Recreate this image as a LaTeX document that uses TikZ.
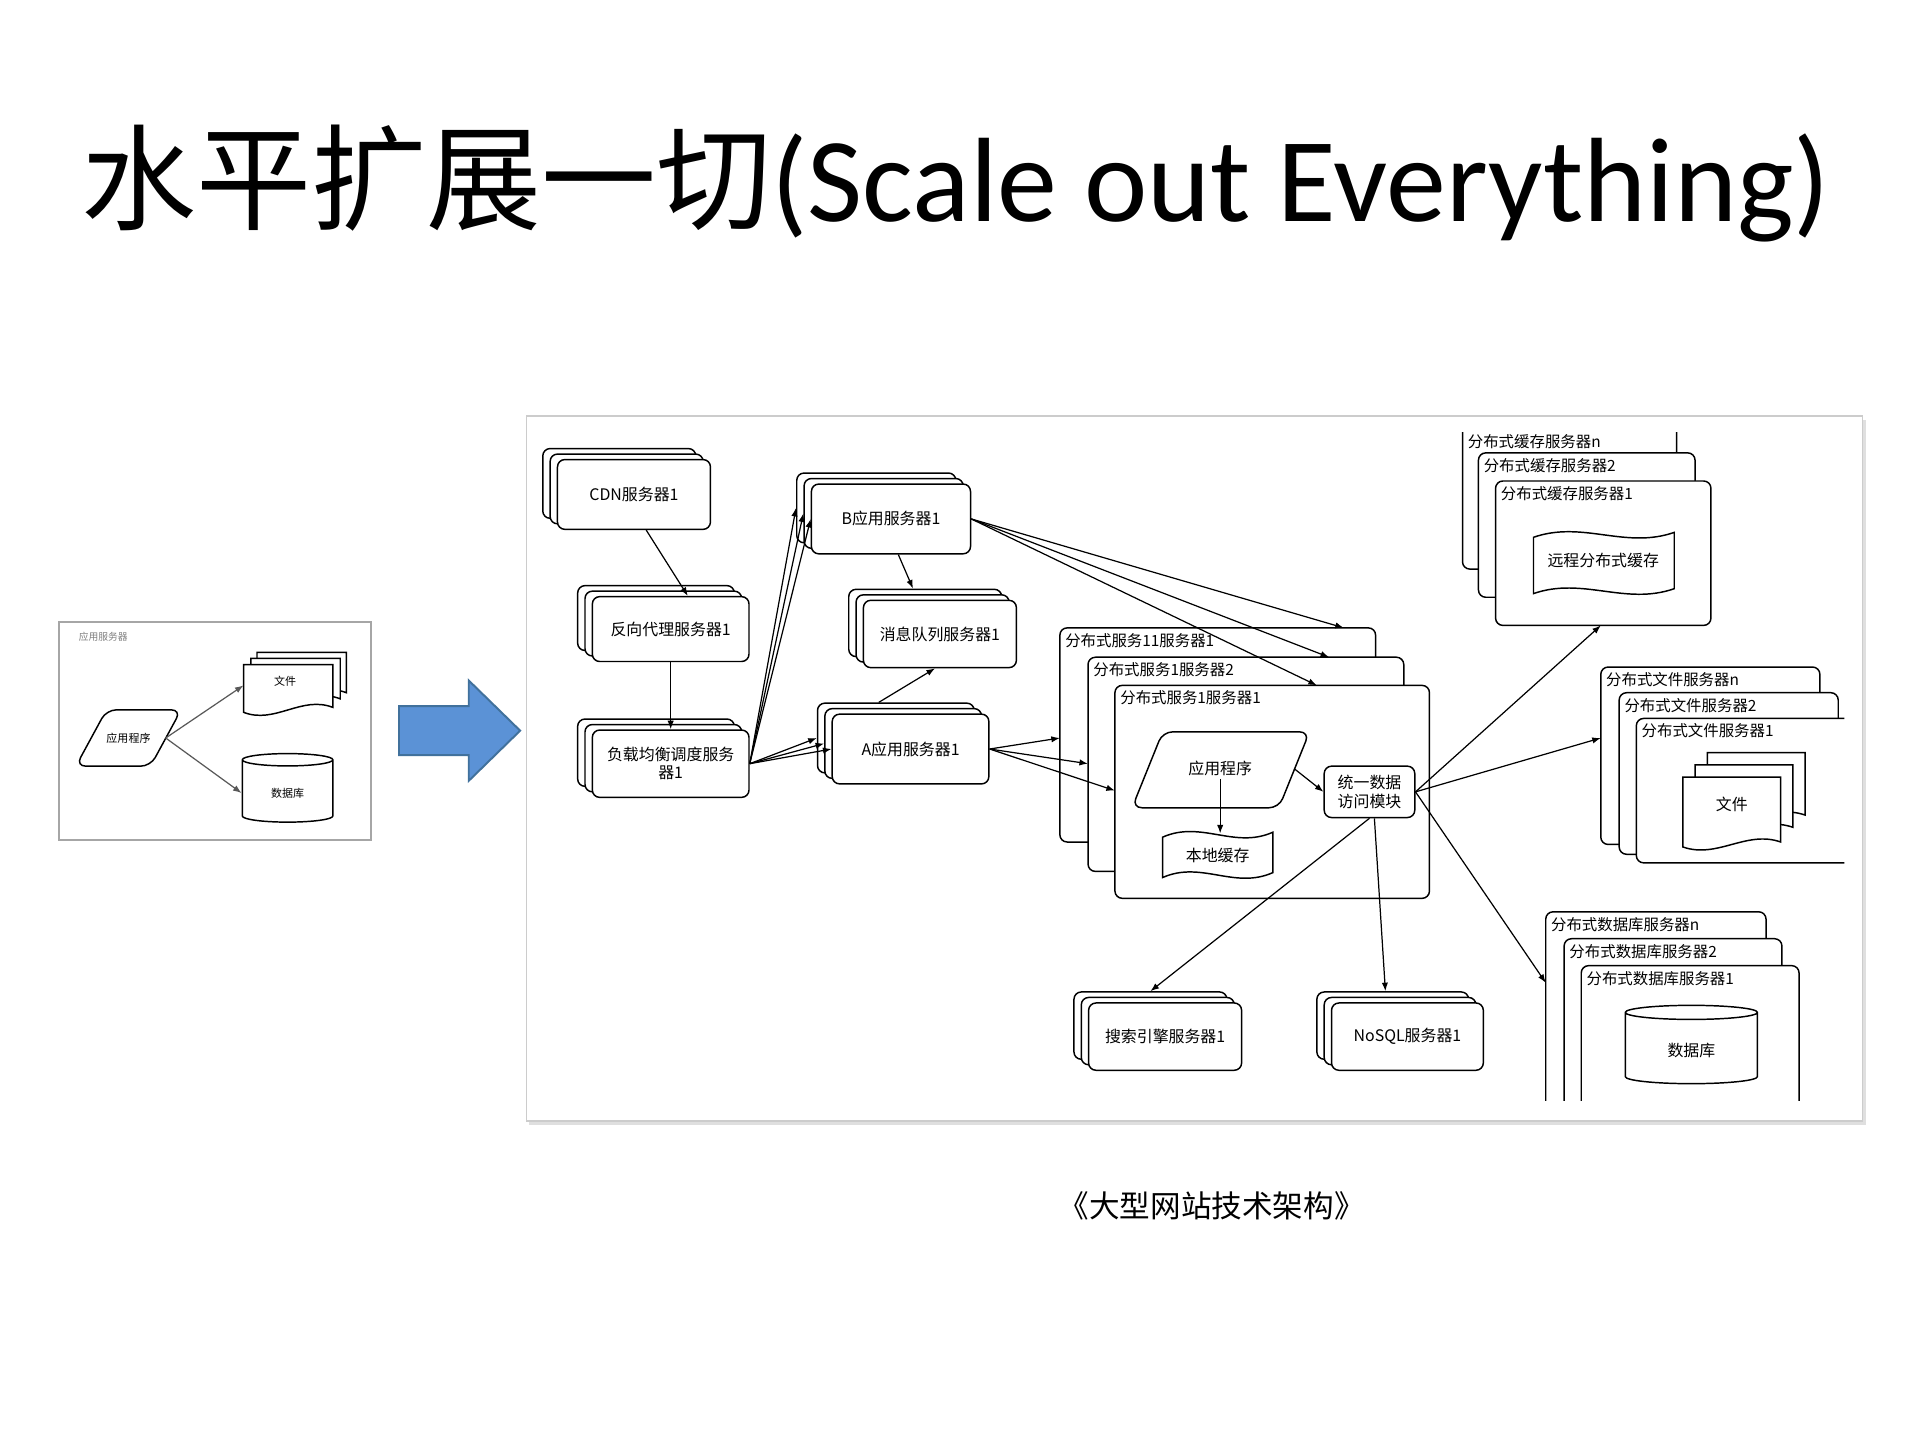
\documentclass[tikz,border=0pt]{standalone}
\usepackage{fontspec}
\setmainfont{Carlito}
\newfontfamily\cjk{Noto Sans CJK SC}
\usetikzlibrary{shapes.geometric,arrows.meta}
\tikzset{
  srv/.style={draw,rounded corners=3pt,fill=white,line width=0.6pt,font=\cjk\fontsize{6.5}{7.5}\selectfont,align=center,inner sep=1pt},
  cont/.style={draw,rounded corners=3pt,fill=white,line width=0.6pt},
  clab/.style={anchor=north west,font=\cjk\fontsize{6.3}{7}\selectfont,inner sep=1pt},
  txt/.style={font=\cjk\fontsize{6.5}{7.5}\selectfont,align=center,inner sep=1pt},
  arr/.style={-{Latex[length=3.5pt,width=2.6pt]},line width=0.5pt},
  shp/.style={draw,fill=white,line width=0.6pt}
}
\newcommand\SB[6]{%
  \node[srv,minimum width=#4*0.5pt,minimum height=#5*0.5pt] (#1c) at (#2-12,#3-9) {};
  \node[srv,minimum width=#4*0.5pt,minimum height=#5*0.5pt] (#1b) at (#2-6,#3-4.5) {};
  \node[srv,minimum width=#4*0.5pt,minimum height=#5*0.5pt] (#1) at (#2,#3) {#6};}
\newcommand\tapeshape[4]{%
  \draw[shp] (#1,#2+4) .. controls ({#1+(#3-#1)*0.35},#2-10) and ({#1+(#3-#1)*0.65},#2+14) .. (#3,#2) -- (#3,#4-4)
   .. controls ({#1+(#3-#1)*0.65},#4+10) and ({#1+(#3-#1)*0.35},#4-14) .. (#1,#4) -- cycle;}
\newcommand\docshape[4]{%
  \draw[shp] (#1,#2) -- (#3,#2) -- (#3,#4-4)
   .. controls ({#1+(#3-#1)*0.65},#4-14) and ({#1+(#3-#1)*0.35},#4+10) .. (#1,#4) -- cycle;}
\newcommand\parashape[4]{%
  \draw[shp,rounded corners=4pt] (#1+25,#2) -- (#3,#2) -- (#3-25,#4) -- (#1,#4) -- cycle;}
\begin{document}
\begin{tikzpicture}[x=0.5pt,y=-0.5pt]
\useasboundingbox (0,0) rectangle (1568,1175);
\fill[white] (0,0) rectangle (1568,1175);
% title
\node[anchor=west,inner sep=0pt] (title) at (66,150) {{\cjk\fontsize{47}{50}\selectfont 水平扩展一切}\fontsize{49}{52}\selectfont(Scale out Everything)};
% left small diagram
\draw[gray!70,line width=0.8pt,fill=white] (48,508) rectangle (303,686);
\node[anchor=north west,font=\cjk\fontsize{4}{5}\selectfont,gray,inner sep=0pt] (sl) at (64,516) {应用服务器};
\parashape{62}{580}{148}{626}
\node[txt,font=\cjk\fontsize{4.5}{5}\selectfont,minimum width=30pt] (sapp) at (105,603) {应用程序};
\docshape{210}{533}{283}{570}
\docshape{205}{538}{278}{575}
\docshape{199}{543}{272}{582}
\node[txt,font=\cjk\fontsize{4.5}{5}\selectfont] (sfile) at (233,557) {文件};
\node[cylinder,shape border rotate=90,aspect=0.25,draw,line width=0.6pt,minimum width=37pt,minimum height=28pt,font=\cjk\fontsize{4.5}{5}\selectfont] (sdb) at (235,648) {数据库};
\draw[arr,gray!70!black] (sapp.east) -- (199,560);
\draw[arr,gray!70!black] (sapp.east) -- (sdb.west);
% blue arrow
\draw[fill={rgb,255:red,91;green,146;blue,214},draw={rgb,255:red,65;green,113;blue,156},line width=0.8pt]
  (326,577) -- (383,577) -- (383,556) -- (425,597) -- (383,638) -- (383,617) -- (326,617) -- cycle;
% frame
\fill[gray!25] (432,343) rectangle (1525,919);
\draw[gray!40,fill=white,line width=0.6pt] (430,340) rectangle (1522,916);
% servers
\SB{cdn}{518}{404}{125}{57}{CDN服务器1}
\SB{rp}{548}{514}{128}{53}{反向代理服务器1}
\SB{lb}{548}{624}{128}{55}{负载均衡调度服务\\器1}
\SB{bapp}{728}{424}{130}{57}{B应用服务器1}
\SB{mq}{768}{518}{125}{55}{消息队列服务器1}
\SB{aapp}{744}{612}{128}{57}{A应用服务器1}
\SB{se}{952}{847}{125}{55}{搜索引擎服务器1}
\SB{nosql}{1150}{847}{124}{55}{NoSQL服务器1}
% distributed service containers
\draw[cont] (866,513) rectangle (1124,688); \node[clab] (d11l) at (868,515) {分布式服务11服务器1};
\draw[cont] (889,537) rectangle (1147,712); \node[clab] (d12l) at (891,539) {分布式服务1服务器2};
\draw[cont] (911,560) rectangle (1168,734); \node[clab] (d1l) at (913,562) {分布式服务1服务器1};
\coordinate (d11) at (866,603); \coordinate (d12) at (889,624); \coordinate (d1) at (911,646);
\coordinate (d11t) at (1098,513); \coordinate (d12t) at (1086,537); \coordinate (d1t) at (1076,560);
\parashape{925}{598}{1070}{660}
\node[txt,minimum width=60pt] (app) at (997,628) {应用程序};
\tapeshape{950}{680}{1040}{717}
\node[txt] (lc) at (995,699) {本地缓存};
\node[srv,minimum width=37pt,minimum height=21pt] (uda) at (1119,647) {统一数据\\访问模块};
% cache servers
\begin{scope}
\clip (1150,353) rectangle (1520,916);
\draw[cont] (1195,340) rectangle (1370,465); \node[clab] (cnl) at (1197,353) {分布式缓存服务器n};
\end{scope}
\draw[cont] (1208,370) rectangle (1385,488); \node[clab] (c2l) at (1210,372) {分布式缓存服务器2};
\draw[cont] (1222,393) rectangle (1398,511); \node[clab] (c1l) at (1224,395) {分布式缓存服务器1};
\coordinate (cache) at (1308,511);
\tapeshape{1253}{435}{1368}{485}
\node[txt] (rc) at (1310,458) {远程分布式缓存};
% file servers
\begin{scope}
\clip (1150,353) rectangle (1507,916);
\draw[cont] (1308,545) rectangle (1487,690); \node[clab] (fnl) at (1310,547) {分布式文件服务器n};
\draw[cont] (1323,566) rectangle (1502,698); \node[clab] (f2l) at (1325,568) {分布式文件服务器2};
\draw[cont] (1337,587) rectangle (1540,705); \node[clab] (f1l) at (1339,589) {分布式文件服务器1};
\end{scope}
\coordinate (files) at (1308,603);
\docshape{1395}{615}{1475}{670}
\docshape{1385}{625}{1465}{680}
\docshape{1375}{635}{1455}{692}
\node[txt] (fl) at (1415,657) {文件};
% db servers
\begin{scope}
\clip (1150,353) rectangle (1520,899);
\draw[cont] (1263,745) rectangle (1443,950); \node[clab] (dbnl) at (1265,747) {分布式数据库服务器n};
\draw[cont] (1278,767) rectangle (1456,950); \node[clab] (db2l) at (1280,769) {分布式数据库服务器2};
\draw[cont] (1292,789) rectangle (1470,950); \node[clab] (db1l) at (1294,791) {分布式数据库服务器1};
\end{scope}
\coordinate (dbs) at (1263,803);
\node[cylinder,shape border rotate=90,aspect=0.22,draw,fill=white,line width=0.6pt,minimum width=54pt,minimum height=32pt,font=\cjk\fontsize{6.5}{7.5}\selectfont] (dbc) at (1382,858) {数据库};
% connectors
\draw[arr] (cdn.south) ++(10,0) -- ([xshift=7pt]rp.north);
\draw[arr] (rp.south) -- ++(0,46) -- (lb.north);
\draw[arr] (lb.east) -- (bappc.west);
\draw[arr] (lb.east) -- (bappb.west);
\draw[arr] (lb.east) -- (bapp.west);
\draw[arr] (lb.east) -- (aappc.west);
\draw[arr] (lb.east) -- (aappb.west);
\draw[arr] (lb.east) -- (aapp.west);
\draw[arr] ([xshift=3pt]bapp.south) -- ([xshift=-5pt]mqc.north);
\draw[arr] ([xshift=-7pt]aappc.north) -- ([xshift=-2pt]mq.south);
\draw[arr] (bapp.east) -- (d11t);
\draw[arr] (bapp.east) -- (d12t);
\draw[arr] (bapp.east) -- (d1t);
\draw[arr] (aapp.east) -- (d11);
\draw[arr] (aapp.east) -- (d12);
\draw[arr] (aapp.east) -- (d1);
\draw[arr] (app.east) -- (uda.west);
\draw[arr] (app.south) -- (997,681);
\draw[arr] (uda.east) -- (cache);
\draw[arr] (uda.east) -- (files);
\draw[arr] (uda.east) -- (dbs);
\draw[arr] (uda.south) -- (sec.north);
\draw[arr] ([xshift=2pt]uda.south) -- ([xshift=-3pt]nosqlc.north);
% caption
\node[font=\cjk\fontsize{12.5}{14}\selectfont] (cap) at (990,985) {《大型网站技术架构》};
\end{tikzpicture}
\end{document}
